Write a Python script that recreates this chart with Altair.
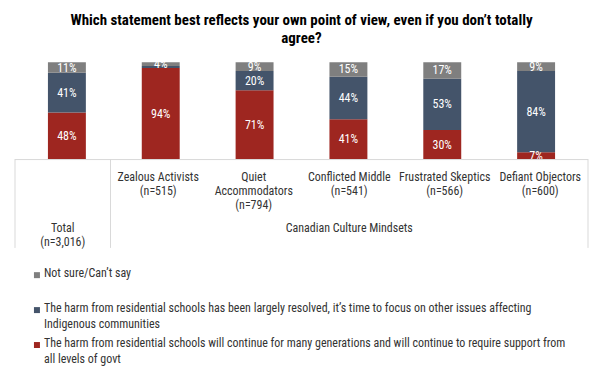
import altair as alt
import pandas as pd

# ---------------- data ----------------
groups = ["Total", "Zealous Activists", "Quiet Accommodators", "Conflicted Middle",
          "Frustrated Skeptics", "Defiant Objectors"]
group_label_lines = [
    ["Total", "(n=3,016)"],
    ["Zealous Activists", "(n=515)"],
    ["Quiet", "Accommodators", "(n=794)"],
    ["Conflicted Middle", "(n=541)"],
    ["Frustrated Skeptics", "(n=566)"],
    ["Defiant Objectors", "(n=600)"],
]
super_group = "Canadian Culture Mindsets"

series = [
    "The harm from residential schools will continue for many generations and will continue to require support from all levels of govt",
    "The harm from residential schools has been largely resolved, it\u2019s time to focus on other issues affecting Indigenous communities",
    "Not sure/Can\u2019t say",
]
legend_lines = [
    "The harm from residential schools will continue for many generations and will continue to require support from\nall levels of govt",
    "The harm from residential schools has been largely resolved, it\u2019s time to focus on other issues affecting\nIndigenous communities",
    "Not sure/Can\u2019t say",
]
continue_vals = [48, 94, 71, 41, 30, 7]
resolved_vals = [41, 2, 20, 44, 53, 84]
notsure_vals = [11, 4, 9, 15, 17, 9]

colors = ["#9E2620", "#44546A", "#7F7F7F"]
title_lines = ["Which statement best reflects your own point of view, even if you don\u2019t totally", "agree?"]

FONT = "Liberation Sans Narrow, Arial Narrow, Roboto Condensed, sans-serif"

# ---------------- tables ----------------
rows = []
for gi, g in enumerate(groups):
    for si, vals in enumerate([continue_vals, resolved_vals, notsure_vals]):
        v = vals[gi]
        rows.append({"group": g, "pos": gi + 0.5, "series": series[si], "k": si,
                     "value": v, "label": f"{v}%" if v >= 3 else ""})
df = pd.DataFrame(rows)

lab_rows = []
for gi, lines in enumerate(group_label_lines):
    start = 3.65 if gi == 0 else 0
    for li, t in enumerate(lines):
        lab_rows.append({"pos": gi + 0.5, "row": start + li, "text": t})
lab_rows.append({"pos": (1 + len(groups)) / 2, "row": 3.65, "text": super_group})
lab_df = pd.DataFrame(lab_rows)

sep_df = pd.DataFrame({"pos": [0, 1, len(groups)]})
top_df = pd.DataFrame({"pos": [0], "pos2": [len(groups)]})

leg_df = pd.DataFrame({"series": series, "text": legend_lines, "item": [2, 1, 0]})

xscale = alt.Scale(domain=[0, len(groups)], nice=False, zero=False)
cscale = alt.Scale(domain=series, range=colors)

W = 574

# ---------------- bars ----------------
base = alt.Chart(df).transform_stack(
    stack="value", as_=["y0", "y1"], groupby=["group"], sort=[alt.SortField("k")]
)
bars = base.mark_bar(size=38).encode(
    x=alt.X("pos:Q", scale=xscale, axis=None),
    y=alt.Y("y0:Q", scale=alt.Scale(domain=[0, 100], nice=False), axis=None),
    y2="y1:Q",
    color=alt.Color("series:N", scale=cscale, legend=None),
)
pct = base.transform_calculate(mid="(datum.y0 + datum.y1) / 2").mark_text(
    color="white", fontSize=12, font=FONT
).encode(
    x=alt.X("pos:Q", scale=xscale, axis=None),
    y=alt.Y("mid:Q", scale=alt.Scale(domain=[0, 100], nice=False), axis=None),
    text="label:N",
)
bar_chart = alt.layer(bars, pct).properties(width=W, height=97)

# ---------------- category axis ----------------
yrow = alt.Scale(domain=[-18 / 14, 71 / 14], reverse=True, nice=False, zero=False)
vlines = alt.Chart(sep_df).mark_rule(color="#D9D9D9", strokeWidth=1).encode(
    x=alt.X("pos:Q", scale=xscale, axis=None),
    y=alt.value(0),
    y2=alt.value(89),
)
hline = alt.Chart(top_df).mark_rule(color="#D9D9D9", strokeWidth=1).encode(
    x=alt.X("pos:Q", scale=xscale, axis=None),
    x2="pos2:Q",
    y=alt.value(0.5),
)
cat_text = alt.Chart(lab_df).mark_text(fontSize=12, font=FONT, color="#333333").encode(
    x=alt.X("pos:Q", scale=xscale, axis=None),
    y=alt.Y("row:Q", scale=yrow, axis=None),
    text="text:N",
)
axis_chart = alt.layer(vlines, hline, cat_text).properties(width=W, height=89)

# ---------------- legend ----------------
yleg = alt.Scale(domain=[-0.78, 2.22], nice=False, zero=False, reverse=True)
leg_sq = alt.Chart(leg_df).mark_square(size=36, opacity=1).encode(
    x=alt.value(22),
    y=alt.Y("item:Q", scale=yleg, axis=None),
    color=alt.Color("series:N", scale=cscale, legend=None),
)
leg_txt = alt.Chart(leg_df).mark_text(
    align="left", baseline="top", dy=-7, lineBreak="\n", lineHeight=16,
    fontSize=12, font=FONT, color="#333333"
).encode(
    x=alt.value(29),
    y=alt.Y("item:Q", scale=yleg, axis=None),
    text="text:N",
)
legend_chart = alt.layer(leg_sq, leg_txt).properties(width=W, height=105)

chart = alt.vconcat(bar_chart, axis_chart, legend_chart, spacing=0, bounds="flush").properties(
    title=alt.TitleParams(
        text=title_lines, fontSize=15, font=FONT, fontWeight="bold", color="#000000",
        anchor="middle", lineHeight=18, offset=12
    ),
    padding={"left": 6, "top": 4, "right": 5, "bottom": 5},
).configure_view(stroke=None).configure_concat(spacing=0)

chart.save("out.html", embed_options={"renderer": "svg", "actions": False})
